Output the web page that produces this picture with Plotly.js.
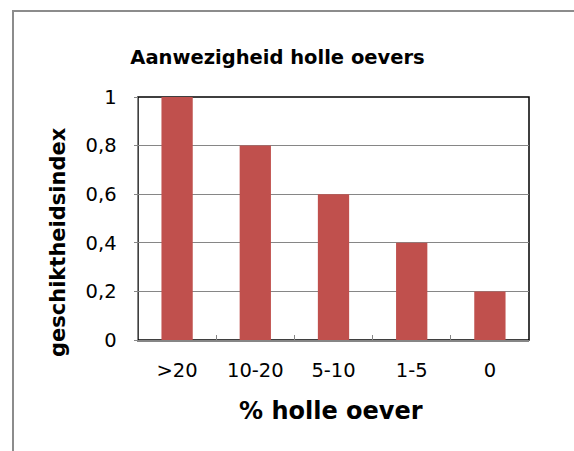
<!DOCTYPE html>
<html>
<head>
<meta charset="utf-8">
<script src="https://cdn.plot.ly/plotly-3.0.1.min.js"></script>
<style>
html,body{margin:0;padding:0;background:#fff;overflow:hidden;}
#frame{position:absolute;left:12px;top:10px;width:600px;height:500px;border-top:2px solid #8c8c8c;border-left:2px solid #8c8c8c;box-sizing:border-box;}
#chart{position:absolute;left:0;top:0;width:574px;height:451px;}
</style>
</head>
<body>
<div id="frame"></div>
<div id="chart"></div>
<script>
const categories = ['>20', '10-20', '5-10', '1-5', '0'];
const values = [1, 0.8, 0.6, 0.4, 0.2];
const yTicks = [0, 0.2, 0.4, 0.6, 0.8, 1];
const chartTitle = 'Aanwezigheid holle oevers';
const xTitle = '% holle oever';
const yTitle = 'geschiktheidsindex';

const W = 574, H = 451;
const L = 138, R = 529, T = 97, B = 340;
const pw = R - L, ph = B - T;
const px = v => (v - L) / pw;
const py = v => (B - v) / ph;
const font = '"DejaVu Sans", Verdana, sans-serif';

const data = [{
  type: 'bar',
  x: categories,
  y: values,
  marker: {color: '#C0504D', line: {width: 0}},
  hoverinfo: 'x+y'
}];

const layout = {
  width: W, height: H,
  margin: {l: L, r: W - R, t: T, b: H - B, pad: 0},
  paper_bgcolor: 'rgba(0,0,0,0)',
  plot_bgcolor: '#fff',
  separators: ', ',
  showlegend: false,
  bargap: 0.6,
  font: {family: font, color: '#000', size: 19.5},
  title: {
    text: '<b>' + chartTitle + '</b>',
    font: {family: font, size: 19.5, color: '#000'},
    x: 277.5 / W, xanchor: 'center', xref: 'container',
    y: 1 - 57 / H, yanchor: 'middle', yref: 'container'
  },
  xaxis: {
    type: 'category',
    showline: true, linecolor: '#868686', linewidth: 1.5,
    ticks: 'inside', tickson: 'boundaries', ticklen: 5, tickcolor: '#868686', tickwidth: 1,
    showgrid: false, zeroline: false,
    tickfont: {family: font, size: 19.5, color: '#000'},
    ticklabelstandoff: 12,
    fixedrange: true
  },
  yaxis: {
    range: [0, 1],
    tickvals: yTicks,
    showline: true, linecolor: '#868686', linewidth: 1.5,
    ticks: 'outside', ticklen: 3, tickcolor: '#868686', tickwidth: 1,
    showgrid: true, gridcolor: '#868686', gridwidth: 1,
    zeroline: false,
    tickfont: {family: font, size: 19.5, color: '#000'},
    ticklabelstandoff: 13,
    fixedrange: true
  },
  shapes: [
    {type: 'rect', xref: 'paper', yref: 'paper', x0: 0, x1: 1, y0: 0, y1: 1,
     line: {color: '#000', width: 1.5}, fillcolor: 'rgba(0,0,0,0)', layer: 'below'}
  ],
  annotations: [
    {text: '<b>' + xTitle + '</b>', xref: 'paper', yref: 'paper', x: px(331), y: py(411),
     xanchor: 'center', yanchor: 'middle', showarrow: false,
     font: {family: font, size: 24, color: '#000'}},
    {text: '<b>' + yTitle + '</b>', xref: 'paper', yref: 'paper', x: px(58), y: py(242),
     xanchor: 'center', yanchor: 'middle', showarrow: false, textangle: -90,
     font: {family: font, size: 21, color: '#000'}}
  ]
};

Plotly.newPlot('chart', data, layout, {displayModeBar: false, staticPlot: true});
</script>
</body>
</html>
